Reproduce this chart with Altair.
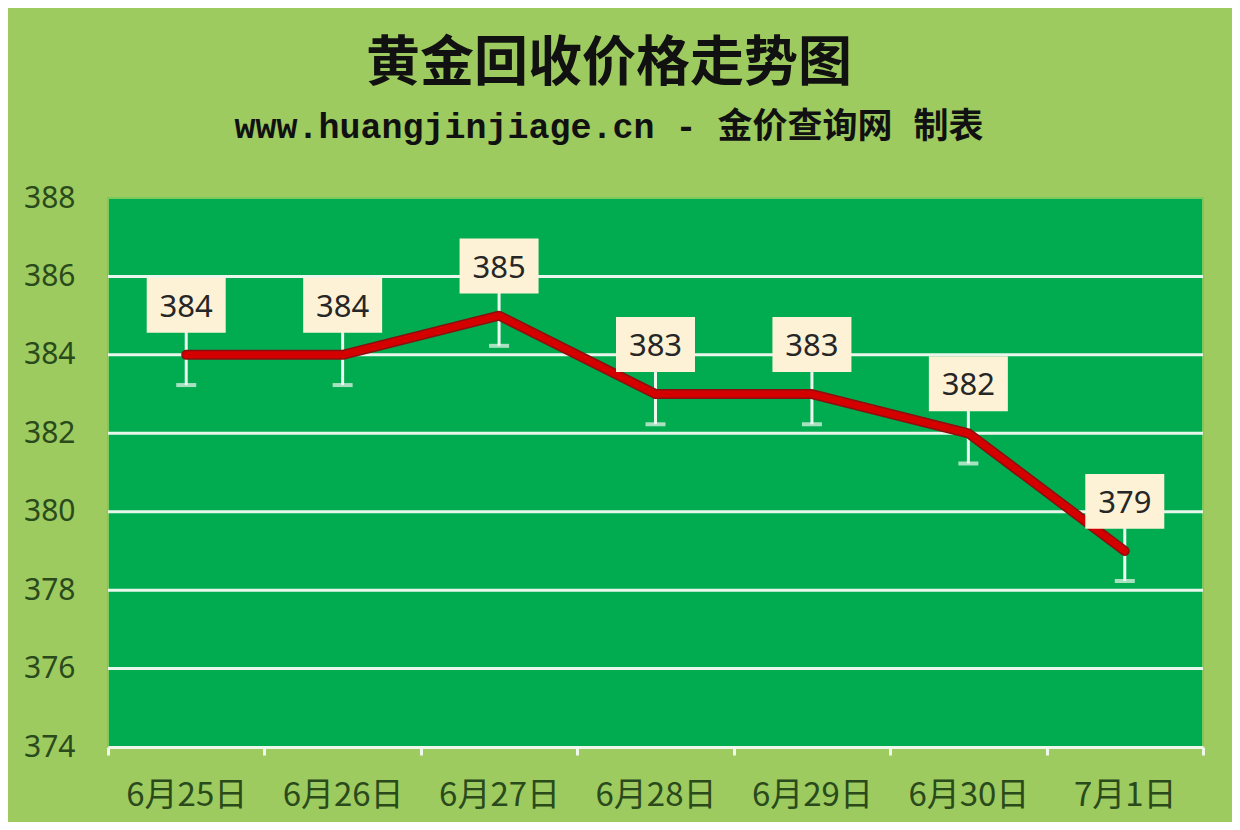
import altair as alt
import pandas as pd

dates = ["6月25日", "6月26日", "6月27日", "6月28日", "6月29日", "6月30日", "7月1日"]
prices = [384, 384, 385, 383, 383, 382, 379]
errs = [0.77, 0.77, 0.77, 0.77, 0.77, 0.77, 0.77]
y_ticks = [374, 376, 378, 380, 382, 384, 386, 388]
grid_vals = [376, 378, 380, 382, 384, 386]
title_text = "黄金回收价格走势图"
subtitle_text = "www.huangjinjiage.cn - 金价查询网 制表"

df = pd.DataFrame({"date": dates, "price": prices, "err": errs})
df["lo"] = df["price"] - df["err"]
df["hi"] = df["price"] + df["err"]

W, H = 1095, 549
LABEL_COLOR = "#2a4a1c"

xenc = alt.X(
    "date:N",
    sort=dates,
    scale=alt.Scale(type="band", paddingInner=0, paddingOuter=0),
    axis=alt.Axis(
        title=None,
        labelAngle=0,
        labelFontSize=33,
        labelColor=LABEL_COLOR,
        labelFont="Noto Sans CJK SC",
        labelPadding=24,
        domainColor="#eef7ea",
        domainWidth=3,
        tickColor="#eef7ea",
        tickWidth=3,
        tickSize=8,
        tickBand="extent",
        grid=False,
    ),
)
yscale = alt.Scale(domain=[374, 388], nice=False, zero=False)
yaxis = alt.Axis(
    title=None,
    values=y_ticks,
    labelFontSize=30,
    labelColor=LABEL_COLOR,
    labelFont="Noto Sans",
    labelPadding=33,
    ticks=False,
    domain=False,
    grid=False,
)

base = alt.Chart(df)

grid = alt.Chart(pd.DataFrame({"g": grid_vals})).mark_rule(
    color="#e8f6ec", strokeWidth=3
).encode(y=alt.Y("g:Q", scale=yscale, axis=yaxis))

err_rule = base.mark_rule(color="#eef8f0", strokeWidth=3).encode(
    x=xenc, y=alt.Y("lo:Q", scale=yscale, axis=yaxis), y2="hi:Q"
)
err_cap = base.mark_tick(color="#eef8f0", thickness=4, size=20, orient="horizontal").encode(
    x=xenc, y=alt.Y("lo:Q", scale=yscale, axis=yaxis)
)

line_dark = base.mark_line(color="#8a1010", strokeWidth=10, strokeCap="round", strokeJoin="round").encode(
    x=xenc, y=alt.Y("price:Q", scale=yscale, axis=yaxis)
)
line = base.mark_line(color="#d40000", strokeWidth=7, strokeCap="round", strokeJoin="round").encode(
    x=xenc, y=alt.Y("price:Q", scale=yscale, axis=yaxis)
)

box = base.mark_point(
    shape="M-1,-1.95L1,-1.95L1,-0.56L-1,-0.56Z",
    size=79 * 79,
    filled=True,
    fill="#fdf2d6",
    opacity=1,
    strokeWidth=0,
).encode(x=xenc, y=alt.Y("price:Q", scale=yscale, axis=yaxis))

labels = base.mark_text(
    dy=-47, fontSize=31, font="Noto Sans", color="#262626", baseline="middle", align="center"
).encode(
    x=xenc, y=alt.Y("price:Q", scale=yscale, axis=yaxis), text=alt.Text("price:Q")
)

tdf = pd.DataFrame({"t": [title_text], "s": [subtitle_text]})
title = alt.Chart(tdf).mark_text(
    fontSize=54, fontWeight="bold", font="Noto Sans CJK SC", color="#111111",
    align="center", baseline="middle"
).encode(x=alt.value(501), y=alt.value(-133), text="t:N")
subtitle = alt.Chart(tdf).mark_text(
    fontSize=35, fontWeight="bold", font="Liberation Mono, Noto Sans CJK SC", color="#111111",
    align="center", baseline="middle"
).encode(x=alt.value(501), y=alt.value(-71), text="s:N")

chart = (
    alt.layer(grid, err_rule, err_cap, line_dark, line, box, labels, title, subtitle)
    .properties(
        width=W,
        height=H,
        autosize=alt.AutoSizeParams(type="none"),
        padding={"left": 100, "top": 190, "right": 29, "bottom": 75},
        background="#9dcb5f",
    )
    .configure_view(fill="#00ac4f", stroke="#7cc95c", strokeWidth=2)
)

chart.save("out.html", embed_options={"renderer": "svg", "actions": False})
